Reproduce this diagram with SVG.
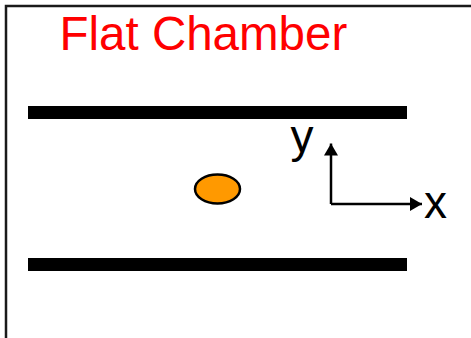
<svg xmlns="http://www.w3.org/2000/svg" width="471" height="338" viewBox="0 0 471 338">
  <style>
    .bar { fill: #000; }
    .lbl { font-family: "Liberation Sans", Arial, sans-serif; fill: #000; }
    .axis { stroke: #000; stroke-width: 2.5; fill: none; }
  </style>
  <defs>
    <marker id="ah" viewBox="0 0 12 14" refX="12" refY="7" markerWidth="12" markerHeight="14" markerUnits="userSpaceOnUse" orient="auto">
      <path d="M0,0 L12,7 L0,14 Z" fill="#000"/>
    </marker>
  </defs>
  <rect width="471" height="338" fill="#fff"/>
  <rect id="frame" x="6" y="6" width="480" height="350" fill="none" stroke="#1a1a1a" stroke-width="2.5"/>
  <text id="title" x="59.5" y="49.5" font-family="Liberation Sans, Arial, sans-serif" font-size="47.5" fill="#ff0000">Flat Chamber</text>
  <g id="top-plate"><rect class="bar" x="28" y="106" width="379" height="13"/></g>
  <g id="bottom-plate"><rect class="bar" x="28" y="258" width="379" height="13"/></g>
  <g id="particle"><ellipse cx="217.5" cy="189" rx="22.5" ry="14.5" fill="#ff9900" stroke="#000" stroke-width="2.5"/></g>
  <g id="connectors">
    <path class="axis" d="M331,204 L331,143.5" marker-end="url(#ah)"/>
    <path class="axis" d="M331,204 L422,204" marker-end="url(#ah)"/>
  </g>
  <g id="label-y"><text class="lbl" x="290.5" y="152" font-size="46">y</text></g>
  <g id="label-x"><text class="lbl" x="424" y="218" font-size="46">x</text></g>
</svg>
